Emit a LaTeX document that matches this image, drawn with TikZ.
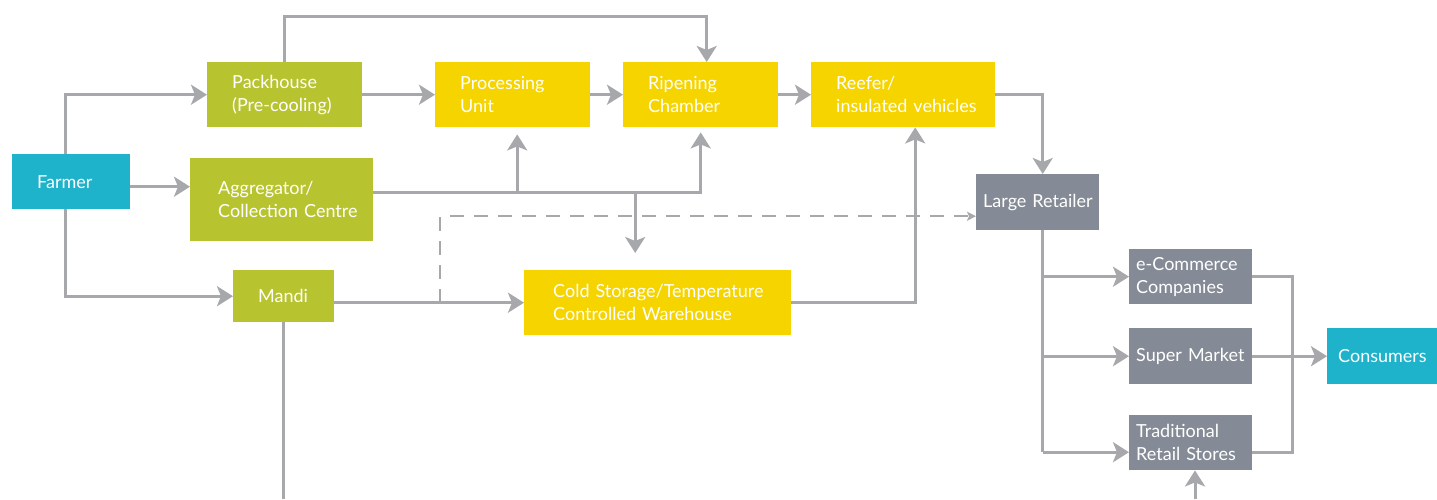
\documentclass[tikz,border=0pt]{standalone}
\usepackage{fontspec}
\setmainfont{Lato}
\usetikzlibrary{arrows.meta}
\hyphenpenalty=10000
\exhyphenpenalty=10000

\definecolor{farmblue}{HTML}{1EB2CB}
\definecolor{leafgreen}{HTML}{B8C42F}
\definecolor{sunyellow}{HTML}{F5D400}
\definecolor{slategrey}{HTML}{858B96}
\definecolor{wiregrey}{HTML}{A7A8AC}

\tikzset{
  stage/.style={anchor=north west, text=white, align=left, inner xsep=25pt, inner ysep=0pt,
    font=\fontsize{18}{23}\selectfont},
  flow/.style={draw=wiregrey, line width=3pt, -{Stealth[length=16pt, width=20pt, inset=4pt]}},
  link/.style={draw=wiregrey, line width=3pt},
  hint/.style={draw=wiregrey, line width=2pt, dash pattern=on 14pt off 10pt,
    -{Stealth[length=9pt, width=9pt, inset=2pt]}}
}

\begin{document}
\begin{tikzpicture}[x=1pt, y=-1pt]
	\useasboundingbox (0,0) rectangle (1437,499);
	% sources
	\node[stage, fill=farmblue, text width=68pt, minimum height=55pt] (farmer) at (12,154) {Farmer};
	\node[stage, fill=leafgreen, text width=105pt, minimum height=65pt] (pack) at (207,62) {Packhouse\\(Pre-cooling)};
	\node[stage, fill=leafgreen, inner xsep=28pt, text width=127pt, minimum height=83pt] (agg) at (190,158) {Aggregator/\\Collection~Centre};
	\node[stage, fill=leafgreen, text width=51pt, minimum height=52pt] (mandi) at (233,270) {Mandi};
	% cold chain
	\node[stage, fill=sunyellow, text width=105pt, minimum height=65pt] (proc) at (435,62) {Processing\\Unit};
	\node[stage, fill=sunyellow, text width=105pt, minimum height=65pt] (ripe) at (623,62) {Ripening\\Chamber};
	\node[stage, fill=sunyellow, text width=134pt, minimum height=65pt] (reefer) at (811,62) {Reefer/\\insulated~vehicles};
	\node[stage, fill=sunyellow, inner xsep=29pt, text width=209pt, minimum height=65pt] (cold) at (524,270) {Cold~Storage/Temperature\\Controlled~Warehouse};
	% retail
	\node[stage, fill=slategrey, inner xsep=7pt, text width=109pt, minimum height=56pt] (large) at (976,174) {Large~Retailer};
	\node[stage, fill=slategrey, inner xsep=7pt, text width=109pt, minimum height=55pt] (ecom) at (1129,249) {e-Commerce\\Companies};
	\node[stage, fill=slategrey, inner xsep=7pt, text width=109pt, minimum height=56pt] (super) at (1129,328) {Super~Market};
	\node[stage, fill=slategrey, inner xsep=7pt, text width=109pt, minimum height=55pt] (trad) at (1129,415) {Traditional\\Retail~Stores};
	\node[stage, fill=farmblue, inner xsep=11pt, text width=88pt, minimum height=56pt] (cons) at (1327,328) {Consumers};

	% farmer outlets
	\draw[flow] ([xshift=-6pt]farmer.north) |- (pack.west);
	\draw[flow] ([yshift=-5pt]farmer.east) -- ([yshift=-5pt]farmer.east -| agg.west);
	\draw[flow] ([xshift=-6pt]farmer.south) |- (mandi.west);
	% packhouse
	\draw[flow] (pack.north) -- ++(0,-46) -| ([xshift=6pt]ripe.north);
	\draw[flow] (pack.east) -- (proc.west);
	\draw[flow] (proc.east) -- (ripe.west);
	\draw[flow] (ripe.east) -- (reefer.west);
	\draw[flow] (reefer.east) -| ([xshift=5pt]large.north);
	% aggregator bus
	\coordinate (aggout) at ([yshift=7pt]agg.east);
	\coordinate (procin) at ([xshift=4.5pt]proc.south);
	\coordinate (coldin) at ([xshift=-22.5pt]cold.north);
	\draw[flow, shorten >=5pt] (aggout) -| (ripe.south);
	\draw[flow, shorten >=7pt] (procin |- aggout) -- (procin);
	\draw[flow, shorten >=17pt] (coldin |- aggout) -- (coldin);
	% mandi
	\coordinate (tap) at (440,302.5);
	\coordinate (retin) at ([yshift=-14pt]large.west);
	\coordinate (tradfeed) at (1195,499);
	\coordinate (mandiexit) at (mandi.south |- tradfeed);
	\draw[flow] (mandi.east |- cold.west) -- (cold.west);
	\draw[hint] (tap) |- (retin);
	\draw[link] (mandi.south) -- (mandiexit);
	\draw[flow] (cold.east) -| ([xshift=12pt]reefer.south);
	% retail split
	\coordinate (spine) at ([xshift=5pt]large.south);
	\coordinate (tradin) at ([yshift=-9.5pt]trad.west);
	\coordinate (tradout) at ([yshift=-9.5pt]trad.east);
	\draw[link] (spine) -- (spine |- tradin);
	\draw[flow] (spine |- ecom.west) -- (ecom.west);
	\draw[flow] (spine |- super.west) -- (super.west);
	\draw[flow] (spine |- tradin) -- (tradin);
	\draw[link] (ecom.east) -- ++(40,0) |- (tradout);
	\draw[flow] (super.east) -- (cons.west);
	\draw[flow] (tradfeed) -- (tradfeed |- trad.south);
\end{tikzpicture}
\end{document}
